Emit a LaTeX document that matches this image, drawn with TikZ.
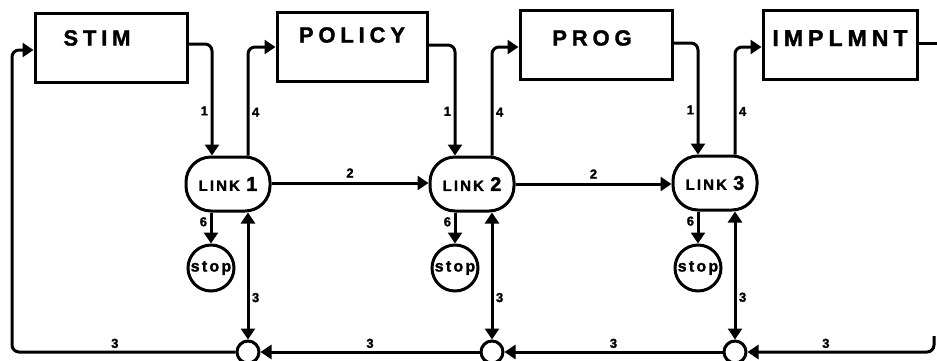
\documentclass[tikz,border=0pt]{standalone}
\usepackage{fontspec}
\setmainfont{Liberation Sans}
\newfontfamily\boxfont[UprightFont=* Bold, LetterSpace=22, FakeBold=1.5]{Liberation Sans}
\newfontfamily\linkfont[UprightFont=* Bold, LetterSpace=14, FakeBold=1.5]{Liberation Sans}
\newfontfamily\stopfont[UprightFont=* Bold, LetterSpace=14, FakeBold=1.5]{Liberation Sans}
\newfontfamily\lblfont[UprightFont=* Bold, FakeBold=1.5]{Liberation Sans}
\usetikzlibrary{arrows.meta}
\newcommand\lnktext[1]{{\linkfont\fontsize{15}{16}\selectfont LINK\ {\fontsize{20}{20}\selectfont #1}}}
\begin{document}
\begin{tikzpicture}[x=1pt,y=-1pt,
  box/.style={draw, line width=3pt, minimum width=152pt, minimum height=69pt, inner sep=0},
  boxtext/.style={inner sep=0, anchor=north, font=\boxfont\fontsize{22}{26}\selectfont},
  linknode/.style={draw, line width=3pt, rounded corners=25pt, minimum width=84pt, minimum height=54pt, inner sep=0},
  stopnode/.style={draw, circle, line width=3pt, minimum size=46pt, inner sep=0, font=\stopfont\fontsize{16}{18}\selectfont},
  junc/.style={draw, circle, line width=3pt, minimum size=22pt, inner sep=0, fill=white},
  conn/.style={line width=3pt, rounded corners=7pt, -{Triangle[width=14pt,length=11pt]}},
  dconn/.style={line width=3pt, {Triangle[width=14pt,length=11pt]}-{Triangle[width=14pt,length=11pt]}},
  plain/.style={line width=3pt},
  lbl/.style={font=\lblfont\fontsize{13}{14}\selectfont, inner sep=2.5pt},
]
\useasboundingbox (0,0) rectangle (937,360);

% boxes
\node[box, label={[boxtext, xshift=-14pt, yshift=-18pt]north:STIM}] (stim) at (111,48) {};
\node[box, minimum width=150pt, label={[boxtext, yshift=-16pt]north:POLICY}] (policy) at (352,47) {};
\node[box, label={[boxtext, xshift=-4pt, yshift=-21pt]north:PROG}] (prog) at (596,45) {};
\node[box, minimum width=154pt, label={[boxtext, yshift=-21pt, font=\boxfont\fontsize{23}{26}\selectfont]north:IMPLMNT}] (impl) at (840,45) {};

% links
\node[linknode] (l1) at (228,184) {\lnktext{1}};
\node[linknode] (l2) at (472,184) {\lnktext{2}};
\node[linknode] (l3) at (715,183) {\lnktext{3}};

% stops
\node[stopnode] (s1) at (211,268) {stop};
\node[stopnode] (s2) at (455,268) {stop};
\node[stopnode] (s3) at (698,268) {stop};

% junctions
\node[junc] (c1) at (248,352) {};
\node[junc] (c2) at (492,352) {};
\node[junc] (c3) at (735,352) {};

\coordinate (lft) at (12,50);
\coordinate (rt) at (934,336);
\coordinate (ro) at (937,43);

% box -> link (1)
\draw[conn] ([yshift=4pt]stim.east) -| node[lbl,left,pos=0.8]{1} ([xshift=-16pt]l1.north);
\draw[conn] ([yshift=2pt]policy.east) -| node[lbl,left,pos=0.8]{1} ([xshift=-17pt]l2.north);
\draw[conn] ([yshift=2pt]prog.east) -| node[lbl,left,pos=0.8]{1} ([xshift=-17pt]l3.north);
\draw[plain] ([yshift=2pt]impl.east) -- (ro);

% link -> box (4)
\draw[conn] ([xshift=20pt]l1.north) |- node[lbl,right,pos=0.2]{4} (policy.west);
\draw[conn] ([xshift=20pt]l2.north) |- node[lbl,right,pos=0.2]{4} ([yshift=-2pt]prog.west);
\draw[conn] ([xshift=20pt]l3.north) |- node[lbl,right,pos=0.2]{4} ([yshift=-2pt]impl.west);

% link -> link (2)
\draw[conn] ([yshift=1pt]l1.east) -- node[lbl,above,inner sep=4pt]{2} ([yshift=1pt]l2.west);
\draw[conn] (l2.east) -- node[lbl,above,inner sep=4pt]{2} (l2.east -| l3.west);

% link -> stop (6)
\draw[conn] ([xshift=-17pt]l1.south) -- node[lbl,left,pos=0.3]{6} (s1.north);
\draw[conn] ([xshift=-17pt]l2.south) -- node[lbl,left,pos=0.3]{6} (s2.north);
\draw[conn] ([xshift=-17pt]l3.south) -- node[lbl,left,pos=0.3]{6} (s3.north);

% link <-> junction (3)
\draw[dconn] ([xshift=20pt]l1.south) -- node[lbl,right,pos=0.67]{3} (c1.north);
\draw[dconn] ([xshift=20pt]l2.south) -- node[lbl,right,pos=0.67]{3} (c2.north);
\draw[dconn] ([xshift=20pt]l3.south) -- node[lbl,right,pos=0.67]{3} (c3.north);

% bottom feedback line
\draw[conn] (rt) |- node[lbl,above,pos=0.79]{3} (c3.east);
\draw[conn] (c3.west) -- node[lbl,above]{3} (c2.east);
\draw[conn] (c2.west) -- node[lbl,above]{3} (c1.east);
\draw[conn] (c1.west) -| node[lbl,above,pos=0.27]{3} (lft) -- (stim.west |- lft);
\end{tikzpicture}
\end{document}
